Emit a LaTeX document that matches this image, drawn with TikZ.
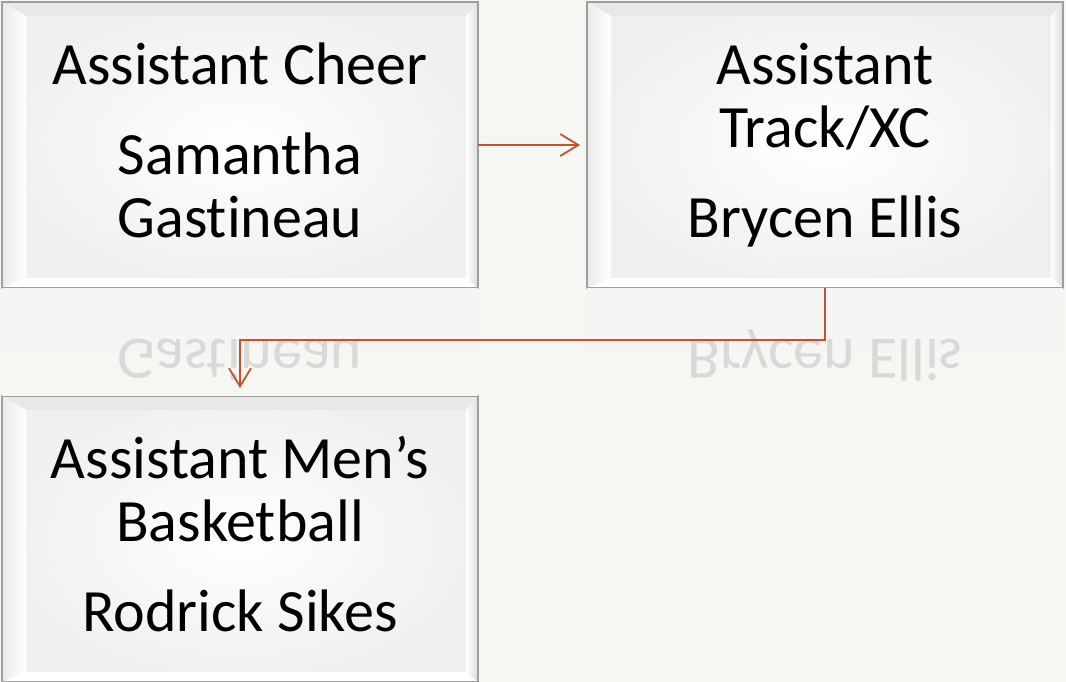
\documentclass[tikz,border=0pt]{standalone}
\usepackage{fontspec}
\setmainfont{Carlito}[Ligatures={NoCommon}]
\usetikzlibrary{positioning,arrows.meta}
\definecolor{bg}{RGB}{246,246,242}
\definecolor{arrowred}{RGB}{201,80,44}

\begin{document}
\begin{tikzpicture}[x=1pt, y=1pt,
  box/.style={rectangle, draw=black!38, line width=1.2pt, inner sep=0pt, outer sep=0pt,
    minimum width=476pt, minimum height=286pt, align=center,
    font=\fontsize{60}{63}\selectfont, text height=192pt, text depth=8pt,
    inner color=white, outer color=black!6,
    path picture={
      \fill[black!9] (path picture bounding box.north west) -- (path picture bounding box.north east)
        -- ([shift={(-12pt,-14pt)}]path picture bounding box.north east)
        -- ([shift={(24pt,-14pt)}]path picture bounding box.north west) -- cycle;
      \shade[left color=black!8, right color=white] (path picture bounding box.north west)
        -- ([shift={(24pt,-14pt)}]path picture bounding box.north west)
        -- ([shift={(24pt,10pt)}]path picture bounding box.south west)
        -- (path picture bounding box.south west) -- cycle;
      \shade[left color=white, right color=black!14] (path picture bounding box.north east)
        -- ([shift={(-12pt,-14pt)}]path picture bounding box.north east)
        -- ([shift={(-12pt,10pt)}]path picture bounding box.south east)
        -- (path picture bounding box.south east) -- cycle;
      \fill[white] (path picture bounding box.south west)
        -- ([shift={(24pt,10pt)}]path picture bounding box.south west)
        -- ([shift={(-12pt,10pt)}]path picture bounding box.south east)
        -- (path picture bounding box.south east) -- cycle;
    }},
  mirrortext/.style={font=\fontsize{60}{63}\selectfont, text=black!15, inner sep=0pt,
    anchor=base, yscale=-1, transform shape},
  link/.style={arrowred, line width=1.8pt,
    -{Straight Barb[length=18pt, width=22pt, line width=1.8pt]}}]

  \useasboundingbox (0,0) rectangle (1066,-682);
  \fill[bg] (0,0) rectangle (1066,-682);

  \node (1) [box] at (240,-145) {Assistant Cheer\\[27pt]Samantha\\Gastineau};
  \node (2) [box, right=109pt of 1] {Assistant\\Track/XC\\[27pt]Brycen Ellis};
  \node (3) [box, below=108pt of 1] {Assistant Men’s\\Basketball\\[27pt]Rodrick Sikes};

  % reflections under the top row
  \begin{scope}
    \clip (1.south west) rectangle ([yshift=-107pt]2.south east);
    \shade[top color=black!4, bottom color=bg] (1.south west) rectangle ([yshift=-107pt]1.south east);
    \shade[top color=black!4, bottom color=bg] (2.south west) rectangle ([yshift=-107pt]2.south east);
    \node (1r) [mirrortext] at ([yshift=-51pt]1.south) {Gastineau};
    \node (2r) [mirrortext] at ([yshift=-51pt]2.south) {Brycen Ellis};
  \end{scope}

  \path (1) edge [link, shorten >=7pt] (2);
  \draw [link, shorten >=8pt] (2.south) -- ++(0,-52) -| (3.north);

\end{tikzpicture}
\end{document}
